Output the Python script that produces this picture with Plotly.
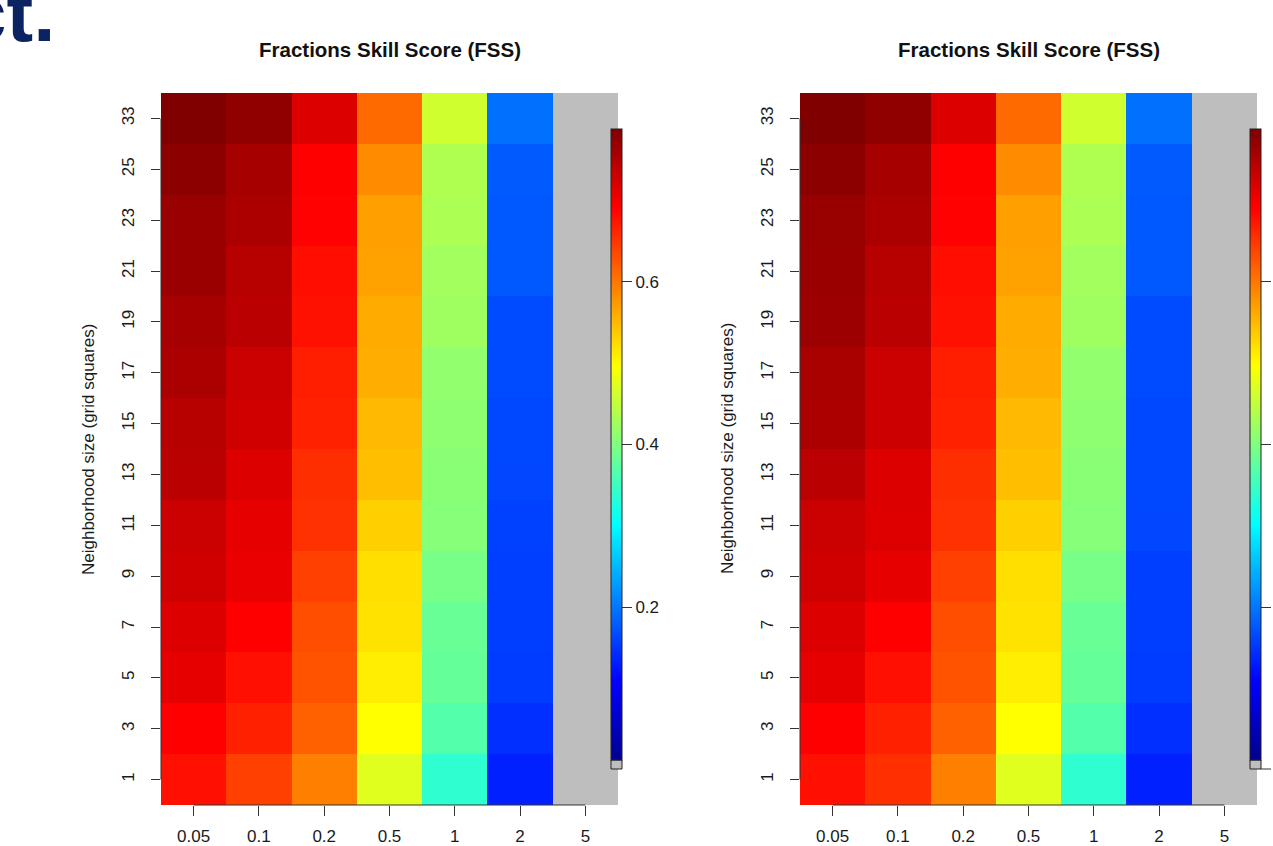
import plotly.graph_objects as go

# ---------------- data ----------------
thresholds = ["0.05", "0.1", "0.2", "0.5", "1", "2", "5"]
neighborhoods = ["1", "3", "5", "7", "9", "11", "13", "15", "17", "19", "21", "23", "25", "33"]

# FSS per threshold column, rows ordered as `neighborhoods` (bottom -> top)
left_t005 = [0.679, 0.691, 0.709, 0.717, 0.728, 0.731, 0.743, 0.746, 0.755, 0.758, 0.767, 0.769, 0.779, 0.788]
left_t01 = [0.642, 0.667, 0.679, 0.691, 0.707, 0.710, 0.717, 0.728, 0.731, 0.744, 0.746, 0.756, 0.758, 0.776]
left_t02 = [0.594, 0.618, 0.628, 0.632, 0.642, 0.654, 0.656, 0.666, 0.668, 0.678, 0.680, 0.690, 0.692, 0.717]
left_t05 = [0.474, 0.497, 0.510, 0.519, 0.521, 0.533, 0.546, 0.550, 0.559, 0.561, 0.568, 0.570, 0.585, 0.610]
left_t1 = [0.339, 0.367, 0.380, 0.382, 0.394, 0.405, 0.407, 0.411, 0.413, 0.424, 0.426, 0.434, 0.436, 0.461]
left_t2 = [0.133, 0.145, 0.155, 0.156, 0.157, 0.158, 0.163, 0.164, 0.165, 0.165, 0.176, 0.177, 0.178, 0.194]
left_t5 = [None] * 14

right_t005 = [0.679, 0.691, 0.709, 0.717, 0.728, 0.731, 0.744, 0.755, 0.757, 0.766, 0.768, 0.770, 0.779, 0.788]
right_t01 = [0.655, 0.667, 0.679, 0.691, 0.710, 0.716, 0.718, 0.729, 0.731, 0.744, 0.746, 0.756, 0.758, 0.776]
right_t02 = [0.594, 0.618, 0.628, 0.632, 0.642, 0.654, 0.656, 0.666, 0.668, 0.678, 0.680, 0.690, 0.692, 0.717]
right_t05 = [0.474, 0.497, 0.510, 0.519, 0.521, 0.533, 0.546, 0.550, 0.559, 0.561, 0.568, 0.570, 0.585, 0.610]
right_t1 = [0.339, 0.367, 0.380, 0.382, 0.394, 0.405, 0.407, 0.411, 0.413, 0.424, 0.426, 0.434, 0.436, 0.461]
right_t2 = [0.133, 0.145, 0.155, 0.156, 0.157, 0.163, 0.164, 0.164, 0.165, 0.165, 0.176, 0.177, 0.178, 0.194]
right_t5 = [None] * 14

cbar_ticks = [0.2, 0.4, 0.6]
zmin, zmax = 0.012, 0.788

title_text = "Fractions Skill Score (FSS)"
ylabel_text = "Neighborhood size (grid squares)"


def to_rows(cols):
    return [[c[i] for c in cols] for i in range(len(neighborhoods))]


z_left = to_rows([left_t005, left_t01, left_t02, left_t05, left_t1, left_t2, left_t5])
z_right = to_rows([right_t005, right_t01, right_t02, right_t05, right_t1, right_t2, right_t5])

# ---------------- style ----------------
W, H = 1273, 846
jet = [
    [0.0, "rgb(0,0,143)"],
    [0.125, "rgb(0,0,255)"],
    [0.375, "rgb(0,255,255)"],
    [0.625, "rgb(255,255,0)"],
    [0.875, "rgb(255,0,0)"],
    [1.0, "rgb(128,0,0)"],
]
FONT = "Liberation Sans, Arial, sans-serif"
TXT = "#1a1a1a"
AX = "#333333"

# the right colour bar's labels fall beyond the page edge in the reference
panels = [
    dict(z=z_left, x0=161, x1=618, cb_x=611, xa="x", ya="y", cb_labels=True),
    dict(z=z_right, x0=800, x1=1257, cb_x=1250, xa="x2", ya="y2", cb_labels=False),
]
py0, py1 = 93, 805
cb_top, cb_bot, na_h, cb_w = 129, 760, 9, 11

fig = go.Figure()
layout = dict(
    width=W, height=H,
    margin=dict(l=0, r=0, t=0, b=0, autoexpand=False),
    paper_bgcolor="white",
    plot_bgcolor="#BEBEBE",
    font=dict(family=FONT, size=17, color=TXT),
    showlegend=False,
)
annotations = []
shapes = []

for i, p in enumerate(panels):
    sfx = "" if i == 0 else "2"
    fig.add_trace(go.Heatmap(
        x=thresholds, y=neighborhoods, z=p["z"],
        colorscale=jet, zmin=zmin, zmax=zmax,
        xaxis=p["xa"], yaxis=p["ya"], hoverongaps=False,
        colorbar=dict(
            x=p["cb_x"] / W, xanchor="left", xpad=0, ypad=0,
            y=1 - ((cb_top + cb_bot) / 2) / H, yanchor="middle",
            len=cb_bot - cb_top, lenmode="pixels",
            thickness=cb_w, outlinewidth=1, outlinecolor="#222",
            tickvals=cbar_ticks, ticktext=[f"{v:.1f}" for v in cbar_ticks],
            showticklabels=p["cb_labels"],
            ticks="outside", ticklen=10, tickcolor=AX, tickwidth=1,
            tickfont=dict(size=17, color=TXT, family=FONT),
        ),
    ))
    layout["xaxis" + sfx] = dict(
        domain=[p["x0"] / W, p["x1"] / W], anchor=p["ya"], type="category",
        ticks="outside", ticklen=10, tickcolor=AX, tickwidth=1,
        tickfont=dict(size=17, color=TXT), ticklabelstandoff=6,
        showgrid=False, zeroline=False, showline=False, fixedrange=True,
    )
    layout["yaxis" + sfx] = dict(
        domain=[1 - py1 / H, 1 - py0 / H], anchor=p["xa"], type="category",
        ticks="outside", ticklen=9, tickcolor=AX, tickwidth=1, tickangle=-90,
        tickfont=dict(size=17, color=TXT), ticklabelstandoff=10,
        showgrid=False, zeroline=False, showline=False, fixedrange=True,
    )
    # R-style axis lines spanning first to last tick
    shapes.append(dict(type="line", xref=p["xa"], yref=p["ya"] + " domain",
                       x0=0, x1=len(thresholds) - 1, y0=0, y1=0,
                       line=dict(color=AX, width=1)))
    shapes.append(dict(type="line", xref=p["xa"] + " domain", yref=p["ya"],
                       x0=0, x1=0, y0=0, y1=len(neighborhoods) - 1,
                       line=dict(color=AX, width=1)))
    # NA swatch under the colour bar
    shapes.append(dict(type="rect", xref="paper", yref="paper",
                       x0=p["cb_x"] / W, x1=(p["cb_x"] + cb_w) / W,
                       y0=1 - (cb_bot + na_h) / H, y1=1 - cb_bot / H,
                       fillcolor="#BEBEBE", line=dict(color="#222", width=1)))
    if not p["cb_labels"]:
        # extra legend tick at the foot of the right colour bar
        shapes.append(dict(type="line", xref="paper", yref="paper",
                           x0=(p["cb_x"] + cb_w) / W, x1=(p["cb_x"] + cb_w + 10) / W,
                           y0=1 - (cb_bot + na_h) / H, y1=1 - (cb_bot + na_h) / H,
                           line=dict(color=AX, width=1)))
    annotations.append(dict(
        xref=p["xa"] + " domain", x=0.5, yref="paper", y=1 - 50 / H,
        text=f"<b>{title_text}</b>", showarrow=False,
        xanchor="center", yanchor="middle", font=dict(size=20.5, color="#111"),
    ))
    annotations.append(dict(
        xref="paper", x=(p["x0"] - 73) / W, yref=p["ya"] + " domain", y=0.5,
        text=ylabel_text, showarrow=False, textangle=-90,
        xanchor="center", yanchor="middle", font=dict(size=17, color=TXT),
    ))

# clipped slide heading fragment in the top-left corner
annotations.append(dict(
    xref="paper", x=57 / W, yref="paper", y=1 - 60 / H,
    text="<b>ct.</b>", showarrow=False, xanchor="right", yanchor="bottom",
    font=dict(size=80, color="#0b2360", family=FONT),
))

layout["annotations"] = annotations
layout["shapes"] = shapes
fig.update_layout(**layout)
fig.write_html(
    "out.html",
    config={"displayModeBar": False},
    post_script="document.body.style.margin='0';document.body.style.overflow='hidden';",
)
